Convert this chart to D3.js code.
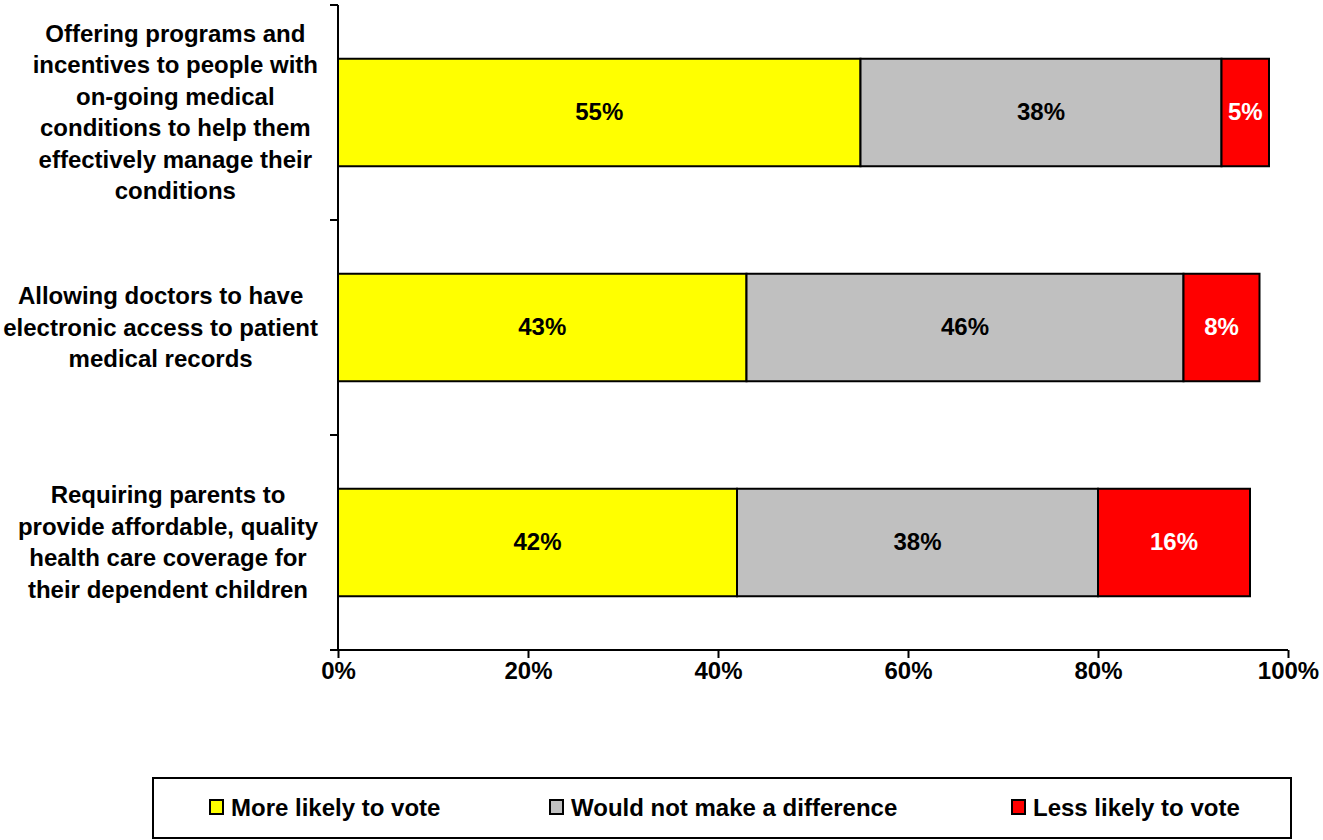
<!DOCTYPE html>
<html>
<head>
<meta charset="utf-8">
<script src="https://cdn.jsdelivr.net/npm/d3@7"></script>
<style>
  html, body { margin: 0; padding: 0; background: #fff; }
  svg { display: block; font-family: "Liberation Sans", Arial, sans-serif; font-weight: bold; }
</style>
</head>
<body>
<svg id="chart" width="1323" height="840"></svg>
<script>
const categories = [
  ["Offering programs and", "incentives to people with", "on-going medical", "conditions to help them", "effectively manage their", "conditions"],
  ["Allowing doctors to have", "electronic access to patient", "medical records"],
  ["Requiring parents to", "provide affordable, quality", "health care coverage for", "their dependent children"]
];
const seriesNames = ["More likely to vote", "Would not make a difference", "Less likely to vote"];
const moreLikely = [55, 43, 42];
const noDifference = [38, 46, 38];
const lessLikely = [5, 8, 16];
const xTicks = [0, 20, 40, 60, 80, 100];
const colors = ["#ffff00", "#c0c0c0", "#ff0000"];
const labelColors = ["#000", "#000", "#fff"];

(function () {
const svg = d3.select("#chart");
const pLeft = 338, pRight = 1288, pTop = 5, pBottom = 650;

const x = d3.scaleLinear().domain([0, 100]).range([pLeft, pRight]);
const y = d3.scaleBand().domain(d3.range(categories.length)).range([pTop, pBottom])
  .paddingInner(0.5).paddingOuter(0.25);
const step = y.step();

const series = [moreLikely, noDifference, lessLikely];
const rows = categories.map((c, i) => {
  let acc = 0;
  return series.map((s, k) => { const seg = {k, i, v: s[i], x0: acc, x1: acc + s[i]}; acc += s[i]; return seg; });
});

// bars
const g = svg.append("g");
rows.forEach(row => {
  row.forEach(seg => {
    g.append("rect")
      .attr("x", x(seg.x0)).attr("y", y(seg.i))
      .attr("width", x(seg.x1) - x(seg.x0)).attr("height", y.bandwidth())
      .attr("fill", colors[seg.k]).attr("stroke", "#000").attr("stroke-width", 2);
  });
});
rows.forEach(row => {
  row.forEach(seg => {
    g.append("text")
      .attr("x", (x(seg.x0) + x(seg.x1)) / 2)
      .attr("y", y(seg.i) + y.bandwidth() / 2 + 7)
      .attr("text-anchor", "middle")
      .attr("font-size", 24)
      .attr("fill", labelColors[seg.k])
      .text(seg.v + "%");
  });
});

// y axis line and ticks at category boundaries
svg.append("line").attr("x1", pLeft).attr("x2", pLeft).attr("y1", pTop).attr("y2", pBottom)
  .attr("stroke", "#000").attr("stroke-width", 2);
d3.range(categories.length + 1).forEach(j => {
  const yy = pTop + j * step;
  svg.append("line").attr("x1", pLeft - 8).attr("x2", pLeft).attr("y1", yy).attr("y2", yy)
    .attr("stroke", "#000").attr("stroke-width", 2);
});

// x axis
const xAxis = d3.axisBottom(x).tickValues(xTicks).tickSize(8).tickSizeOuter(0).tickFormat(d => d + "%").tickPadding(4);
const xg = svg.append("g").attr("transform", `translate(0,${pBottom})`).call(xAxis);
xg.select(".domain").attr("stroke", "#000").attr("stroke-width", 2).attr("d", `M${pLeft - 8},0H${pRight}`);
xg.selectAll(".tick line").attr("stroke", "#000").attr("stroke-width", 2);
xg.selectAll(".tick text").attr("font-size", 24).attr("font-family", "Liberation Sans, Arial, sans-serif")
  .attr("font-weight", "bold").attr("fill", "#000");

// category labels: lines centred in a block whose right edge sits at a fixed x
const lh = 31.4, labelRight = 318;
categories.forEach((lines, i) => {
  const cy = y(i) + y.bandwidth() / 2;
  const t = svg.append("text").attr("text-anchor", "middle").attr("font-size", 24).attr("fill", "#000");
  const spans = lines.map((ln, j) =>
    t.append("tspan").attr("y", cy + (j - (lines.length - 1) / 2) * lh + 8).text(ln));
  const maxW = d3.max(spans, s => s.node().getComputedTextLength());
  spans.forEach(s => s.attr("x", labelRight - maxW / 2));
});

// legend
svg.append("rect").attr("x", 153).attr("y", 778).attr("width", 1138).attr("height", 60)
  .attr("fill", "#fff").attr("stroke", "#000").attr("stroke-width", 2);
const legendX = [210, 550, 1012];
seriesNames.forEach((name, k) => {
  svg.append("rect").attr("x", legendX[k]).attr("y", 800).attr("width", 13).attr("height", 14)
    .attr("fill", colors[k]).attr("stroke", "#000").attr("stroke-width", 2);
  svg.append("text").attr("x", legendX[k] + 21).attr("y", 816).attr("font-size", 24).attr("fill", "#000").text(name);
});
})();
</script>
</body>
</html>
